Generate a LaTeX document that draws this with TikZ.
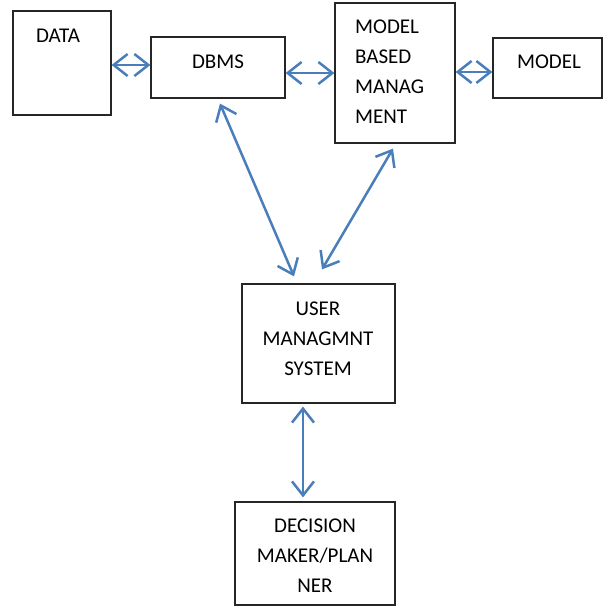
\documentclass[tikz,border=0pt]{standalone}
\usepackage{fontspec}
\setmainfont{Carlito}
\usetikzlibrary{arrows.meta}
\definecolor{arrowblue}{RGB}{74,126,187}
\begin{document}
\begin{tikzpicture}[x=1pt,y=-1pt,
  box/.style={draw=black!85,line width=1.2pt,inner sep=0pt},
  lbl/.style={inner sep=0pt,font=\fontsize{21}{30}\selectfont,text depth=0pt},
  link/.style={draw=arrowblue,line width=2.5pt,{Straight Barb[length=14pt,width=22pt]}-{Straight Barb[length=14pt,width=22pt]}}
]
\useasboundingbox (0,0) rectangle (603,606);
% boxes
\node[box,minimum width=98pt,minimum height=104pt] (data) at (62,63) {};
\node[box,minimum width=134pt,minimum height=61pt] (dbms) at (218,67.5) {};
\node[box,minimum width=120pt,minimum height=140pt] (mbm) at (395,73) {};
\node[box,minimum width=109pt,minimum height=60pt] (model) at (547.5,68) {};
\node[box,minimum width=153pt,minimum height=119pt] (user) at (318.5,343.5) {};
\node[box,minimum width=160pt,minimum height=103pt] (dec) at (315,553.5) {};
% texts
\node[lbl] (datat) at (58,36) {DATA};
\node[lbl] (dbmst) at (218,62) {DBMS};
\node[lbl,align=left,anchor=west] (mbmt) at (355,72) {MODEL\\BASED\\MANAG\\MENT};
\node[lbl] (modelt) at (549,62) {MODEL};
\node[lbl,align=center] (usert) at (318,339) {USER\\MANAGMNT\\SYSTEM};
\node[lbl,align=center] (dect) at (315,556) {DECISION\\MAKER/PLAN\\NER};
% connectors
\draw[link] (data.east |- 0,65) -- (dbms.west |- 0,65);
\draw[link] (dbms.east |- 0,73) -- (mbm.west |- 0,73);
\draw[link] (mbm.east |- 0,72) -- (model.west |- 0,72);
\draw[link] ([shift={(2,5)}]dbms.south) -- ([shift={(-24.5,-7)}]user.north);
\draw[link] ([shift={(-2,5)}]mbm.south) -- ([shift={(3.5,-14)}]user.north);
\draw[link] ([shift={(-15.5,3)}]user.south) -- ([shift={(-12,-4)}]dec.north);
\end{tikzpicture}
\end{document}
